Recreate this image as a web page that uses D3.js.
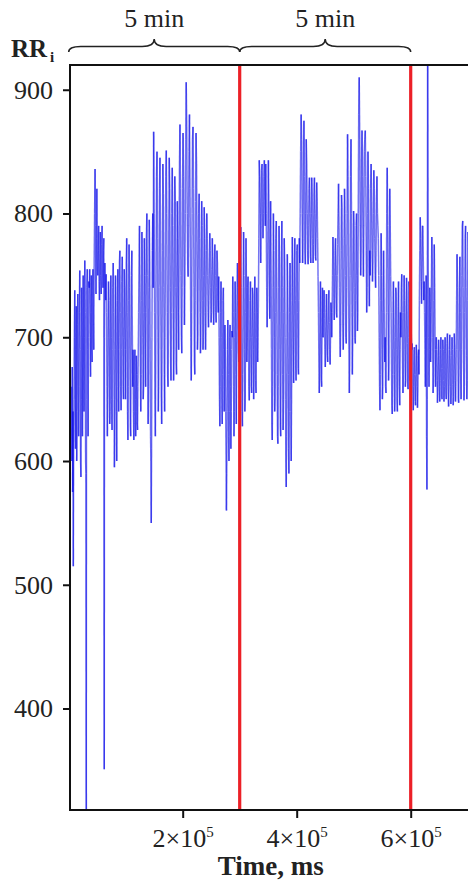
<!DOCTYPE html>
<html>
<head>
<meta charset="utf-8">
<script src="https://cdn.jsdelivr.net/npm/d3@7"></script>
<style>
  html, body { margin: 0; padding: 0; background: #fff; }
  svg { display: block; }
  text { font-family: "Liberation Serif", "Times New Roman", serif; fill: #222; }
</style>
</head>
<body>
<svg id="chart" width="468" height="885"></svg>
<script>
// RR tachogram: successive RR intervals (ms), plotted against cumulative time
const startMs = 5000;
const rrIntervals = [
  660, 600, 676, 575, 640, 515, 610, 650,
  700, 738, 650, 610, 690, 725, 600, 640, 710, 735, 680, 620, 660,
  720, 754, 690, 600, 587, 650, 740, 700, 620, 680, 750, 710, 640,
  700, 762, 720, 600, 590, 318, 650, 740, 755, 690, 620, 700, 745,
  740, 755, 700, 668, 720, 750, 690, 680, 735, 755, 710, 690,
  760, 800, 836, 790, 735, 780, 820, 770, 750,
  770, 790, 745, 730, 760, 785, 750, 735, 775, 790, 760, 740, 770, 780, 351, 700, 760, 740, 730,
  751, 720, 660, 620, 650, 700, 745, 730, 680, 630, 640, 710, 750, 700, 650, 625, 690, 740,
  760, 720, 650, 595, 620, 690, 750, 710, 640, 600, 660, 730, 755, 690, 640,
  700, 760, 770, 720, 660, 641, 690, 745, 765, 710, 660, 650, 700, 755, 740, 690, 650,
  690, 760, 780, 720, 640, 617, 660, 730, 775, 740, 680, 630, 620, 680, 750, 770, 710,
  660, 690, 640, 617, 630, 680, 690, 650, 620, 640, 685, 670, 630, 625, 660, 688,
  720, 760, 790, 740, 680, 640, 670, 730, 785, 760, 700, 650, 660, 720, 780, 750, 690,
  660, 720, 780, 800, 750, 680, 630, 660, 740, 795, 760, 690, 620, 600, 550, 610, 700, 770, 800, 740,
  866, 800, 720, 650, 620, 680, 760, 830, 850, 780, 700, 640, 660, 740, 820, 845, 790, 710, 650, 630, 690, 770, 840, 816, 740, 670, 640, 700,
  760, 830, 851, 800, 720, 670, 660, 710, 790, 845, 820, 740, 680, 665, 720, 800,
  837, 790, 720, 665, 690, 760, 830, 810, 740, 680, 670, 740, 810, 780,
  720, 690, 760, 840, 872, 820, 750, 700, 687, 740, 820, 865, 830, 760, 710, 740,
  800, 860, 906, 870, 800, 760, 749, 790, 850, 880, 820,
  760, 700, 665, 720, 800, 860, 870, 820, 740, 680, 670, 730, 810, 865, 840, 760, 690, 700,
  760, 800, 816, 780, 720, 687, 700, 760, 810, 790, 730, 690, 700, 750, 805, 780, 720, 690, 710, 770, 800,
  780, 750, 720, 708, 730, 760, 784, 770, 740, 712, 720, 755, 780, 765, 735, 710, 725, 760, 775, 750, 720, 712, 740, 770, 760, 730,
  720, 749, 700, 650, 628, 660, 720, 745, 700, 650, 630, 670, 730, 740, 690, 640, 660, 710,
  680, 640, 600, 560, 590, 640, 690, 714, 670, 620, 600, 640, 700, 710, 660, 610, 640, 690, 705,
  700, 749, 720, 660, 620, 640, 700, 745, 720, 670, 630, 680, 740,
  760, 730, 690, 680, 720, 755, 700,
  760, 789, 740, 680, 640, 628, 670, 740, 785, 750, 690, 640, 650, 720, 780, 740, 680,
  700, 740, 749, 710, 660, 649, 680, 730, 745, 700, 660, 655, 700, 740, 735, 690, 650, 670, 720, 749, 710, 665, 655, 700, 740, 720, 680, 700,
  730, 780, 843, 830, 800, 760, 790, 835, 840, 810, 780, 800, 830, 843, 815, 790,
  840, 800, 740, 708, 730, 790, 843, 810, 750, 715, 760,
  810, 760, 690, 630, 617, 660, 740, 800, 770, 700, 640, 650,
  720, 780, 794, 740, 670, 620, 614, 660, 740, 790, 760, 690, 630, 620, 680, 760, 794, 740, 670, 625, 650, 720, 780, 760, 700,
  650, 600, 579, 620, 700, 767, 740, 670, 610, 590, 640, 720, 760, 710, 640, 600, 650, 730,
  781, 740, 690, 663, 700, 760, 780, 730, 680, 665, 710, 770, 775, 720, 675, 670, 730, 780, 760,
  800, 850, 880, 860, 800, 760, 780, 840, 875, 830, 770, 759, 800, 860, 840,
  800, 770, 759, 790, 820, 829, 800, 765, 760, 800, 829, 815, 780, 760, 775, 815, 829, 800, 765, 762, 795, 825, 810, 780,
  749, 720, 680, 655, 670, 720, 745, 700, 665, 660, 710, 740, 700,
  700, 720, 738, 715, 690, 676, 690, 720, 735, 710, 685, 680, 705, 730, 738, 712, 690, 678, 700, 728, 720, 700,
  720, 750, 781, 760, 730, 714, 735, 770, 780, 750, 720, 716, 750, 775,
  800, 824, 790, 740, 700, 684, 710, 770, 815, 805, 760, 710, 690, 720, 780, 820, 800, 750, 700, 695, 740,
  800, 864, 830, 760, 690, 655, 680, 750, 830, 860, 800, 720, 670, 700,
  760, 802, 790, 740, 700, 695, 730, 790, 800, 750, 705, 720,
  800, 880, 910, 860, 790, 750, 770, 840, 867, 830, 780, 749, 790, 850, 860,
  867, 830, 770, 720, 740, 800, 850, 820, 760, 725, 770, 750,
  820, 840, 810, 770, 745, 760, 800, 835, 820, 780, 750, 740, 770, 810, 830, 800, 790,
  780, 750, 700, 660, 641, 670, 730, 784, 750, 690, 650, 660, 720, 770, 740, 700, 680,
  700, 660, 655, 720, 800, 837, 790, 720, 665, 680, 760, 820, 790,
  749, 720, 680, 645, 638, 670, 720, 745, 710, 670, 640, 650, 700, 740, 735, 690, 650, 640, 680, 725, 745, 705, 660, 645, 690, 720, 700,
  740, 751, 720, 680, 655, 670, 720, 750, 730, 690, 660, 665, 710, 748, 735, 695, 660, 658, 700, 745, 740, 700, 665, 670, 720, 700, 690,
  695, 680, 655, 641, 660, 690, 692, 670, 648, 645, 670, 694, 685, 660, 643, 655, 685, 690, 670,
  730, 770, 797, 780, 745, 727, 750, 790, 790, 760, 730, 745,
  720, 690, 660, 700, 750, 620, 577, 650, 945, 760, 700, 660, 690, 740, 720, 680, 700,
  740, 781, 760, 700, 655, 670, 730, 775, 740, 690, 660, 690,
  700, 690, 665, 647, 655, 680, 698, 685, 660, 648, 665, 690, 700, 675, 652, 650, 675, 698, 690, 665, 648, 660, 688, 700, 680, 655,
  650, 670, 695, 703, 680, 655, 644, 660, 690, 702, 685, 660, 646, 655, 685, 700, 690, 662, 645, 652, 680, 703, 692, 665, 648, 660,
  690, 730, 767, 740, 690, 650, 647, 680, 740, 765, 720, 670, 650, 690, 750,
  790, 794, 740, 680, 649, 660, 720, 780, 790, 740, 685, 650, 665, 730, 785, 770, 710, 660, 655, 700, 760, 790,
  740, 690, 660, 700, 750
];

// Vertical markers splitting the record into 5-minute windows
const markerTimes = [300000, 600000];
const windowBounds = [[0, 300000], [300000, 600000]];
const windowLabels = ["5 min", "5 min"];

const yTicks = [400, 500, 600, 700, 800, 900];
const xTicks = [200000, 400000, 600000];
const xTickMantissa = ["2", "4", "6"];
const xTickExponent = ["5", "5", "5"];

const yLabel = "RR";
const yLabelSub = "i";
const xLabel = "Time, ms";

// ---- scales -------------------------------------------------------------
const plot = { left: 70, top: 65, bottom: 810, right: 500 };
const x = d3.scaleLinear().domain([2300, 700000]).range([70, 467.7]);
const y = d3.scaleLinear().domain([318, 920]).range([plot.bottom, plot.top]);

const svg = d3.select("#chart");

// beat times as cumulative sum of intervals
let acc = startMs;
const beats = rrIntervals.map(rr => { const p = { t: acc, rr }; acc += rr; return p; });
const pairs = d3.pairs(beats);

svg.append("defs").append("clipPath").attr("id", "plotClip")
  .append("rect")
  .attr("x", plot.left).attr("y", plot.top)
  .attr("width", plot.right - plot.left).attr("height", plot.bottom - plot.top);

// ---- RR trace: each interval-to-interval step drawn separately so overlaps darken
const trace = svg.append("g").attr("clip-path", "url(#plotClip)");
trace.selectAll("line.rr")
  .data(pairs)
  .join("line")
  .attr("class", "rr")
  .attr("x1", d => x(d[0].t)).attr("y1", d => y(d[0].rr))
  .attr("x2", d => x(d[1].t)).attr("y2", d => y(d[1].rr))
  .attr("stroke", "#1010e8")
  .attr("stroke-opacity", 0.58)
  .attr("stroke-width", 1.5)
  .attr("stroke-linecap", "butt");

// ---- window markers ------------------------------------------------------
svg.append("g").selectAll("line.marker")
  .data(markerTimes)
  .join("line")
  .attr("class", "marker")
  .attr("x1", d => x(d)).attr("x2", d => x(d))
  .attr("y1", plot.top).attr("y2", plot.bottom)
  .attr("stroke", "#ec2027")
  .attr("stroke-width", 3.2);

// ---- frame ---------------------------------------------------------------
svg.append("rect")
  .attr("x", plot.left).attr("y", plot.top)
  .attr("width", plot.right - plot.left).attr("height", plot.bottom - plot.top)
  .attr("fill", "none").attr("stroke", "#111").attr("stroke-width", 2);

// ---- y axis --------------------------------------------------------------
const yAxis = svg.append("g")
  .attr("transform", `translate(${plot.left},0)`)
  .call(d3.axisLeft(y).tickValues(yTicks).tickSize(7).tickPadding(10).tickSizeOuter(0));
yAxis.select(".domain").remove();
yAxis.selectAll(".tick line").attr("stroke", "#111").attr("stroke-width", 2);
yAxis.selectAll(".tick text")
  .attr("font-family", "Liberation Serif, serif")
  .attr("font-size", 26).attr("fill", "#222");

// ---- x axis --------------------------------------------------------------
const xAxis = svg.append("g")
  .attr("transform", `translate(0,${plot.bottom})`)
  .call(d3.axisBottom(x).tickValues(xTicks).tickSize(8).tickSizeOuter(0).tickFormat(""));
xAxis.select(".domain").remove();
xAxis.selectAll(".tick line").attr("stroke", "#111").attr("stroke-width", 2);
xAxis.selectAll(".tick text").remove();
xAxis.selectAll(".tick").each(function(d, i) {
  const t = d3.select(this).append("text")
    .attr("y", 37).attr("text-anchor", "middle")
    .attr("font-family", "Liberation Serif, serif")
    .attr("font-size", 26).attr("fill", "#222");
  t.append("tspan").text(xTickMantissa[i] + "\u00d710");
  t.append("tspan").attr("font-size", 15).attr("dy", -10).text(xTickExponent[i]);
});

svg.append("text")
  .attr("x", (x(2300) + x(700000)) / 2 + 2).attr("y", 875)
  .attr("text-anchor", "middle")
  .attr("font-size", 27).attr("font-weight", "bold")
  .text(xLabel);

// ---- y label -------------------------------------------------------------
const yl = svg.append("text").attr("x", 11).attr("y", 57)
  .attr("font-size", 25).attr("font-weight", "bold");
yl.append("tspan").text(yLabel);
yl.append("tspan").attr("font-size", 15).attr("dx", 3).attr("dy", 5).text(yLabelSub);

// ---- curly braces over the 5-minute windows ------------------------------
function bracePath(x1, x2, yEnd, yFlat, yTip) {
  const mid = (x1 + x2) / 2, r = 12;
  return `M${x1},${yEnd} Q${x1},${yFlat} ${x1 + r},${yFlat} ` +
         `L${mid - r},${yFlat} Q${mid},${yFlat} ${mid},${yTip} ` +
         `Q${mid},${yFlat} ${mid + r},${yFlat} ` +
         `L${x2 - r},${yFlat} Q${x2},${yFlat} ${x2},${yEnd}`;
}
const braces = svg.append("g");
windowBounds.forEach((b, i) => {
  braces.append("path")
    .attr("d", bracePath(x(b[0]), x(b[1]), 52, 46.5, 39))
    .attr("fill", "none").attr("stroke", "#222").attr("stroke-width", 1.5);
  braces.append("text")
    .attr("x", x((b[0] + b[1]) / 2)).attr("y", 27)
    .attr("text-anchor", "middle").attr("font-size", 26)
    .text(windowLabels[i]);
});
</script>
</body>
</html>
